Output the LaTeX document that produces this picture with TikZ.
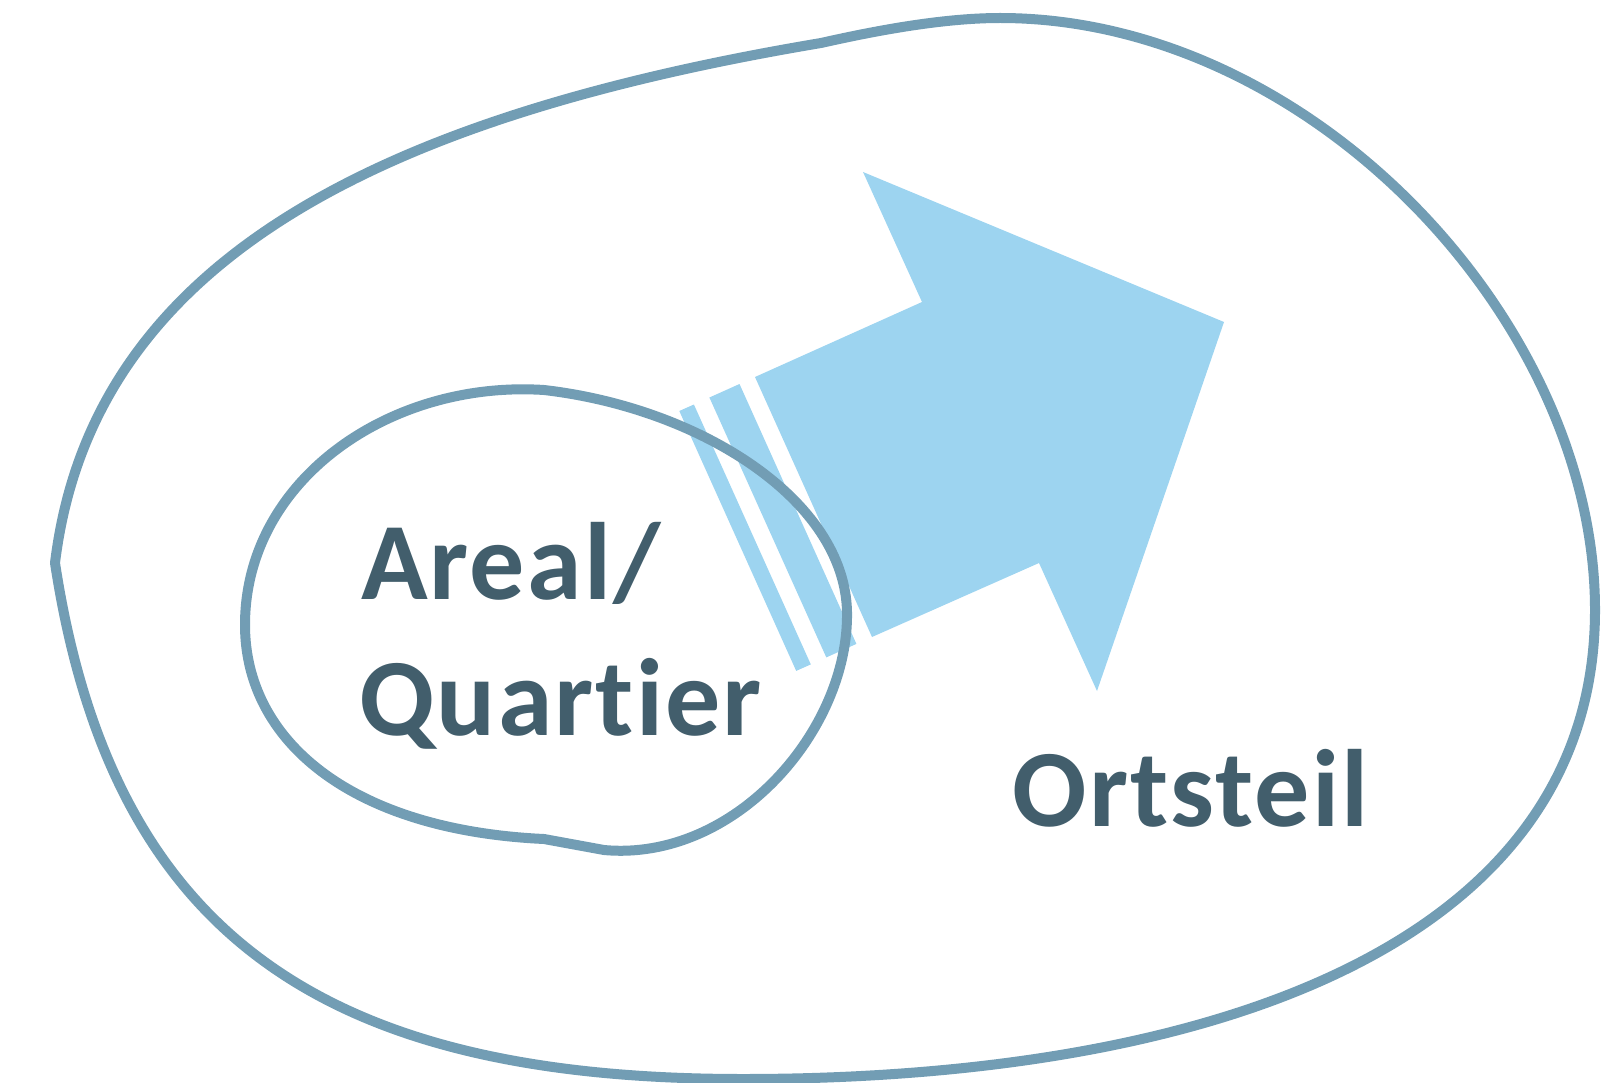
\documentclass[tikz,border=0pt]{standalone}
\usepackage{fontspec}
\setmainfont{Carlito}[Ligatures=NoCommon]
\definecolor{rim}{HTML}{729DB4}
\definecolor{arrowfill}{HTML}{9DD4F0}
\definecolor{label}{HTML}{425E6C}
\tikzset{
  rimline/.style={draw=rim, line width=10pt, line join=round},
  arrowpart/.style={fill=arrowfill, draw=none},
  bigtext/.style={text=label, inner sep=0pt, anchor=base west,
    font=\fontsize{110}{132}\selectfont\bfseries\addfontfeature{LetterSpace=2}}
}
\begin{document}
\begin{tikzpicture}[x=1pt,y=-1pt]
\useasboundingbox (0,0) rectangle (1619,1083);
% arrow
\fill[arrowpart] (755,377) -- (922,302) -- (863,172) -- (1224,322) -- (1097,691) -- (1039,563) -- (872,637) -- cycle;
\fill[arrowpart] (709.4,397.5) -- (739.5,384) -- (856.4,643.9) -- (826.3,657.4) -- cycle;
\fill[arrowpart] (679.3,411.0) -- (693.9,404.5) -- (810.8,664.4) -- (796.2,670.9) -- cycle;
% outer blob
\draw[rimline] (55,563) .. controls (92,260) and (380,117) .. (821,43)
  .. controls (870,32) and (940,18) .. (1000,18)
  .. controls (1310,18) and (1595,320) .. (1595,610)
  .. controls (1595,950) and (1200,1079) .. (743,1079)
  .. controls (323,1079) and (112,935) .. (55,563) -- cycle;
% inner blob
\draw[rimline] (544,390) .. controls (700,408) and (845,500) .. (847,612)
  .. controls (849,730) and (735,862) .. (604,850)
  -- (544,839)
  .. controls (350,830) and (245,740) .. (245,625)
  .. controls (245,480) and (390,380) .. (544,390) -- cycle;
% labels
\node[bigtext] (areal) at (361,599) {Areal/};
\node[bigtext] (quartier) at (359,735) {Quartier};
\node[bigtext] (ortsteil) at (1012.5,826) {Ortsteil};
\end{tikzpicture}
\end{document}
